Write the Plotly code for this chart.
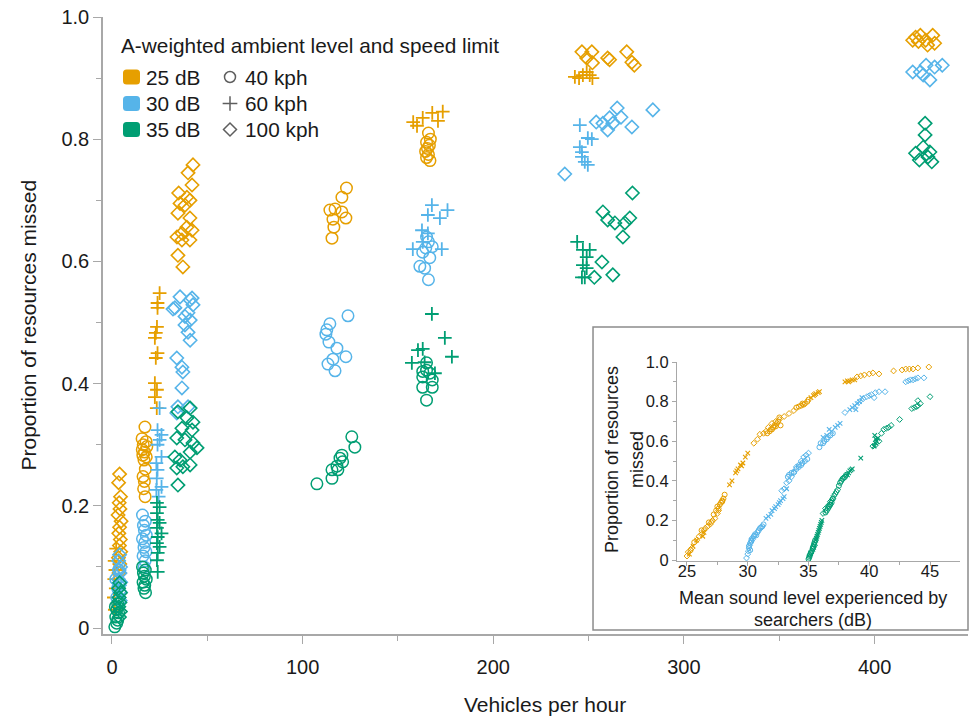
import plotly.graph_objects as go

# ---------------- data: main panel (vehicles per hour vs proportion missed) ----------------
# 25 dB
o40_x = [17.3, 15.8, 17.9, 16.4, 18.3, 15.9, 17.1, 16.2, 18.0, 16.8, 17.5, 16.3, 17.0, 16.6, 17.4,
         123, 120.6, 114.3, 117, 120.6, 122.7, 115.9, 116.4, 115.4,
         166, 167, 165, 166.5, 165.5, 164.5, 166, 165, 166.8]
o40_y = [0.329, 0.31, 0.305, 0.30, 0.297, 0.292, 0.288, 0.283, 0.28, 0.275, 0.26, 0.248, 0.24, 0.228, 0.215,
         0.72, 0.705, 0.684, 0.686, 0.681, 0.671, 0.669, 0.656, 0.638,
         0.81, 0.80, 0.795, 0.79, 0.785, 0.78, 0.775, 0.77, 0.765]
o60_x = [1.5, 1.0, 2.0, 1.2, 1.8, 1.4, 2.2,
         25, 23.9, 23.9, 23.6, 23, 22.5, 23.9, 23, 22.5, 23.6, 22.5, 23.5,
         158, 160, 168, 173.5, 171, 163,
         242.8, 247, 250.6, 252, 249, 245]
o60_y = [0.03, 0.05, 0.065, 0.08, 0.095, 0.11, 0.13,
         0.548, 0.532, 0.524, 0.493, 0.483, 0.475, 0.45, 0.442, 0.401, 0.39, 0.378, 0.36,
         0.828, 0.822, 0.843, 0.845, 0.83, 0.835,
         0.902, 0.905, 0.905, 0.90, 0.91, 0.90]
o100_x = [4, 3.5, 4.5, 3.8, 4.2, 3.2, 4.8, 4, 3.6, 4.4, 3.9, 4.6, 3.4, 4.1, 3.7,
          42.5, 39.9, 42, 35, 39.3, 40.9, 35.7, 38.3, 34.6, 40.9, 39.3, 42, 36.7, 34.1, 36.7, 40.9, 34.6, 37.2,
          246.5, 251.7, 249, 252, 260, 261, 270, 272.7, 274,
          421.5, 424, 426.8, 430.5, 431.5, 427.8, 423, 420]
o100_y = [0.252, 0.238, 0.215, 0.205, 0.195, 0.185, 0.175, 0.165, 0.155, 0.145, 0.135, 0.125, 0.115, 0.105, 0.09,
          0.758, 0.745, 0.725, 0.712, 0.705, 0.70, 0.695, 0.692, 0.679, 0.671, 0.656, 0.651, 0.646, 0.64, 0.635, 0.635, 0.61, 0.591,
          0.943, 0.943, 0.933, 0.925, 0.933, 0.930, 0.943, 0.926, 0.921,
          0.967, 0.97, 0.962, 0.97, 0.957, 0.954, 0.96, 0.962]
# 30 dB
b40_x = [2.5, 3, 2, 3.5,
         16, 17.5, 16.5, 17, 18, 16, 17.2, 16.8, 17.8, 16.3, 17.4, 16.9,
         123.8, 114.3, 112.7, 112.2, 113.8, 118, 122.7, 115.9, 113.3, 117,
         165, 168, 164.6, 166.7, 161.5, 164, 166, 166, 163]
b40_y = [0.05, 0.065, 0.08, 0.095,
         0.185, 0.175, 0.168, 0.16, 0.152, 0.146, 0.14, 0.132, 0.125, 0.118, 0.11, 0.10,
         0.511, 0.498, 0.488, 0.481, 0.468, 0.458, 0.444, 0.44, 0.432, 0.421,
         0.64, 0.624, 0.622, 0.606, 0.592, 0.589, 0.57, 0.632, 0.615]
b60_x = [25, 23.9, 26, 25, 23.9, 26, 23.3, 23.9, 26, 23.3, 24.5, 23.5,
         167.8, 176, 165.7, 172, 162.6, 165.7, 157.8, 173, 163,
         245.4, 249.6, 251.7, 245.4, 246.5, 246.5, 248, 249.6]
b60_y = [0.36, 0.324, 0.316, 0.308, 0.30, 0.28, 0.27, 0.259, 0.231, 0.226, 0.215, 0.245,
         0.692, 0.684, 0.676, 0.671, 0.651, 0.646, 0.62, 0.62, 0.632,
         0.823, 0.802, 0.80, 0.787, 0.779, 0.771, 0.763, 0.758]
b100_x = [4, 3.5, 4.5, 3.8, 4.2, 3.4, 4.6, 3.9, 4.1, 3.6, 4.3,
          35.7, 41, 42.5, 32, 39.9, 41, 38.3, 39.9, 41, 42, 33, 38.3, 34, 36.7, 37.2, 36.7, 34.6, 39.9, 34,
          254, 257.5, 261, 265, 267, 262.7, 260, 272.7, 283.7, 237.5,
          420, 424, 427, 431.5, 435.5, 429, 425.5]
b100_y = [0.12, 0.11, 0.10, 0.095, 0.09, 0.08, 0.075, 0.07, 0.06, 0.05, 0.045,
          0.542, 0.537, 0.529, 0.522, 0.516, 0.504, 0.496, 0.484, 0.471, 0.54, 0.524, 0.51, 0.442, 0.427, 0.419, 0.393, 0.362, 0.362, 0.352,
          0.828, 0.826, 0.835, 0.851, 0.836, 0.826, 0.815, 0.82, 0.848, 0.743,
          0.91, 0.91, 0.921, 0.918, 0.921, 0.897, 0.905]
# 35 dB
g40_x = [1.5, 2.5, 3, 2, 3.5, 2.5, 1.8, 3,
         16, 17.5, 16.5, 17, 18, 16.3, 17.2, 16.8, 17.6,
         125.8, 127.4, 120.6, 119.6, 121, 118, 115.4, 118.5, 115.4, 107.5,
         165, 166.7, 163, 168, 163, 168, 165, 165, 163]
g40_y = [0.002, 0.008, 0.013, 0.018, 0.025, 0.03, 0.035, 0.04,
         0.10, 0.095, 0.09, 0.085, 0.08, 0.075, 0.07, 0.065, 0.058,
         0.313, 0.296, 0.283, 0.278, 0.272, 0.265, 0.259, 0.259, 0.245, 0.236,
         0.422, 0.417, 0.411, 0.406, 0.394, 0.394, 0.373, 0.434, 0.42]
g60_x = [23.6, 25, 23.6, 24, 25, 23.6, 26, 24, 23.6, 25, 24, 23.6, 24,
         167.8, 174.6, 178.3, 160.5, 163, 157.3, 164, 169.4,
         244, 247, 250.6, 249, 247, 249, 246.5, 248]
g60_y = [0.205, 0.198, 0.188, 0.177, 0.172, 0.164, 0.155, 0.149, 0.139, 0.133, 0.123, 0.111, 0.092,
         0.514, 0.475, 0.444, 0.455, 0.457, 0.434, 0.435, 0.417,
         0.632, 0.619, 0.619, 0.607, 0.594, 0.589, 0.574, 0.574]
g100_x = [4, 3.5, 4.5, 3.8, 4.2, 3.6, 4.4, 3.9,
          34.6, 41, 39.3, 42.5, 36.7, 42, 34, 38.3, 42.5, 44.6, 41, 33, 35.7, 37.2, 34, 41, 34.6,
          273, 257.5, 260, 263.8, 271.6, 269, 268, 257, 253, 262.7,
          426.5, 426.5, 421.5, 425.5, 429, 423.5, 428, 430]
g100_y = [0.074, 0.065, 0.058, 0.05, 0.042, 0.035, 0.027, 0.018,
          0.354, 0.36, 0.344, 0.337, 0.327, 0.324, 0.311, 0.308, 0.303, 0.295, 0.288, 0.28, 0.275, 0.264, 0.262, 0.267, 0.234,
          0.712, 0.681, 0.668, 0.663, 0.671, 0.663, 0.64, 0.599, 0.574, 0.578,
          0.826, 0.807, 0.777, 0.787, 0.779, 0.766, 0.771, 0.763]

# ---------------- data: inset (mean sound level vs proportion missed) ----------------
i_o40_x = [25.3, 25.6, 26.2, 26.8, 27.2, 27.4, 27.5, 27.6, 27.7, 27.8, 27.9, 27.9, 28.0, 28.1,
           31.6, 31.8, 31.9, 32.0, 32.1, 32.2, 32.3, 32.4, 32.5, 32.6, 32.7,
           34.0, 34.2, 34.4, 34.5, 34.6, 34.7, 34.9, 35.0]
i_o40_y = [0.05, 0.09, 0.15, 0.19, 0.23, 0.25, 0.27, 0.26, 0.28, 0.29, 0.295, 0.30, 0.31, 0.33,
           0.64, 0.65, 0.66, 0.66, 0.67, 0.68, 0.675, 0.69, 0.70, 0.72, 0.68,
           0.77, 0.775, 0.78, 0.79, 0.785, 0.79, 0.80, 0.81]
i_o60_x = [25.2, 25.5, 25.8, 26.3, 26.4,
           28.5, 28.7, 29.0, 29.1, 29.2, 29.4, 29.5, 29.6, 29.8, 30.0,
           35.2, 35.4, 35.5, 35.6, 35.8, 35.9,
           38.0, 38.2, 38.3, 38.4, 38.6, 38.8]
i_o60_y = [0.03, 0.07, 0.10, 0.12, 0.14,
           0.38, 0.40, 0.44, 0.45, 0.46, 0.48, 0.475, 0.49, 0.52, 0.54,
           0.82, 0.83, 0.835, 0.84, 0.845, 0.85,
           0.90, 0.905, 0.90, 0.905, 0.91, 0.91]
i_o100_x = [25.0, 25.1, 25.4, 25.8, 26.0, 26.2, 26.4, 26.5, 26.7, 26.9, 27.0, 27.1, 27.3, 27.5, 27.6,
            30.5, 30.8, 31.0, 31.3, 31.5, 31.7, 32.0, 32.3, 32.6, 33.0, 33.4, 33.8,
            39.0, 39.3, 39.6, 40.0, 40.3, 40.8, 42.0, 42.7, 43.0, 43.3, 43.6, 44.0, 44.9]
i_o100_y = [0.02, 0.04, 0.06, 0.10, 0.12, 0.13, 0.15, 0.16, 0.17, 0.18, 0.19, 0.20, 0.21, 0.235, 0.25,
            0.59, 0.61, 0.635, 0.64, 0.65, 0.67, 0.69, 0.70, 0.71, 0.725, 0.74, 0.755,
            0.925, 0.93, 0.935, 0.94, 0.945, 0.94, 0.955, 0.96, 0.965, 0.965, 0.965, 0.97, 0.975]
i_b40_x = [30.1, 30.2, 30.3, 30.5, 30.6, 30.7, 30.8, 30.9, 31.0, 31.1, 31.2, 31.3,
           33.3, 33.4, 33.6, 33.8, 34.0, 34.2, 34.4, 34.5, 34.7, 34.9,
           35.9, 36.0, 36.2, 36.3, 36.5, 36.6, 36.8, 37.0]
i_b40_y = [0.07, 0.05, 0.10, 0.12, 0.13, 0.125, 0.14, 0.15, 0.16, 0.165, 0.17, 0.18,
           0.42, 0.43, 0.44, 0.445, 0.46, 0.47, 0.48, 0.49, 0.50, 0.51,
           0.57, 0.59, 0.59, 0.60, 0.61, 0.62, 0.63, 0.64]
i_b60_x = [31.5, 31.7, 31.9, 32.0, 32.2, 32.3, 32.5, 32.6, 32.7, 32.9, 33.0, 33.2,
           36.2, 36.5, 36.9, 37.2, 37.4, 37.6, 36.7,
           38.4, 38.6, 38.8, 39.0, 39.2, 39.4, 38.9]
i_b60_y = [0.21, 0.22, 0.23, 0.25, 0.26, 0.27, 0.28, 0.29, 0.30, 0.31, 0.32, 0.36,
           0.62, 0.63, 0.65, 0.67, 0.68, 0.69, 0.66,
           0.76, 0.77, 0.78, 0.79, 0.80, 0.82, 0.76]
i_b100_x = [29.9, 30.0, 30.05, 30.1, 30.15, 30.2, 30.3, 30.4, 30.5, 30.35, 30.25,
            32.8, 33.0, 33.2, 33.4, 33.6, 33.8, 34.0, 34.2, 34.4, 34.6, 34.8, 35.0,
            38.0, 39.2, 39.5, 39.8, 40.0, 40.2, 40.5, 40.8, 41.3, 40.4,
            43.0, 43.2, 43.4, 43.6, 43.8, 44.0, 44.5]
i_b100_y = [0.01, 0.03, 0.045, 0.06, 0.075, 0.085, 0.095, 0.105, 0.12, 0.11, 0.09,
            0.35, 0.36, 0.39, 0.40, 0.42, 0.44, 0.47, 0.48, 0.50, 0.52, 0.53, 0.54,
            0.745, 0.80, 0.815, 0.825, 0.83, 0.835, 0.845, 0.85, 0.85, 0.82,
            0.90, 0.905, 0.91, 0.91, 0.915, 0.92, 0.92]
i_g40_x = [35.0, 35.05, 35.1, 35.15, 35.2, 35.35, 35.4, 35.45, 35.5, 35.55,
           36.4, 36.5, 36.6, 36.7, 36.8, 36.9, 37.0,
           37.5, 37.6, 37.7, 37.8, 37.9, 38.0, 38.1]
i_g40_y = [0.005, 0.012, 0.02, 0.03, 0.04, 0.06, 0.07, 0.08, 0.09, 0.10,
           0.24, 0.25, 0.26, 0.27, 0.28, 0.29, 0.31,
           0.375, 0.39, 0.40, 0.41, 0.415, 0.42, 0.43]
i_g60_x = [35.6, 35.65, 35.7, 35.75, 35.8, 35.85, 35.9, 35.95, 36.0, 36.05, 36.1,
           38.2, 38.3, 38.4, 38.5, 38.6, 39.3,
           40.4, 40.45, 40.5, 40.55, 40.6, 40.7]
i_g60_y = [0.10, 0.11, 0.12, 0.13, 0.14, 0.15, 0.16, 0.17, 0.18, 0.19, 0.20,
           0.43, 0.44, 0.45, 0.455, 0.46, 0.515,
           0.575, 0.63, 0.59, 0.61, 0.60, 0.615]
i_g100_x = [35.1, 35.2, 35.3, 35.35, 35.4, 35.5,
            36.2, 36.4, 36.6, 36.7, 36.8, 36.9, 37.0, 37.1, 37.2, 37.3, 37.4,
            40.3, 40.5, 40.8, 41.0, 41.2, 41.4, 41.6, 41.8, 42.5,
            43.5, 43.7, 43.9, 44.0, 44.2, 44.0, 45.0]
i_g100_y = [0.025, 0.035, 0.045, 0.055, 0.065, 0.075,
            0.235, 0.26, 0.27, 0.28, 0.295, 0.30, 0.31, 0.325, 0.335, 0.345, 0.355,
            0.575, 0.58, 0.60, 0.64, 0.66, 0.665, 0.67, 0.68, 0.71,
            0.765, 0.77, 0.775, 0.78, 0.79, 0.805, 0.825]

# labels
level_labels = ["25 dB", "30 dB", "35 dB"]
speed_labels = ["40 kph", "60 kph", "100 kph"]
legend_title = "A-weighted ambient level and speed limit"
main_xticks = [0, 100, 200, 300, 400]
main_yticks = [0, 0.2, 0.4, 0.6, 0.8, 1.0]
main_yticktext = ["0", "0.2", "0.4", "0.6", "0.8", "1.0"]
inset_xticks = [25, 30, 35, 40, 45]

# ---------------- styling ----------------
ORANGE, BLUE, GREEN = "#E69F00", "#56B4E9", "#009E73"
FONT = "Liberation Sans, Arial, Helvetica, sans-serif"
TXT = "#1a1a1a"
AX = "#a8a8a8"
colors = [ORANGE, BLUE, GREEN]
main_sym = {"40": ("circle-open", 11.5, 1.5), "60": ("cross-thin-open", 9.8, 1.8), "100": ("diamond-open", 10.2, 1.6)}
inset_sym = {"40": ("circle-open", 5, 1.0), "60": ("x-thin-open", 4.5, 1.1), "100": ("diamond-open", 4.5, 1.0)}

main_groups = [
    (ORANGE, "40", o40_x, o40_y), (ORANGE, "60", o60_x, o60_y), (ORANGE, "100", o100_x, o100_y),
    (BLUE, "40", b40_x, b40_y), (BLUE, "60", b60_x, b60_y), (BLUE, "100", b100_x, b100_y),
    (GREEN, "40", g40_x, g40_y), (GREEN, "60", g60_x, g60_y), (GREEN, "100", g100_x, g100_y),
]
inset_groups = [
    (ORANGE, "40", i_o40_x, i_o40_y), (ORANGE, "60", i_o60_x, i_o60_y), (ORANGE, "100", i_o100_x, i_o100_y),
    (BLUE, "40", i_b40_x, i_b40_y), (BLUE, "60", i_b60_x, i_b60_y), (BLUE, "100", i_b100_x, i_b100_y),
    (GREEN, "40", i_g40_x, i_g40_y), (GREEN, "60", i_g60_x, i_g60_y), (GREEN, "100", i_g100_x, i_g100_y),
]

fig = go.Figure()
for col, sp, xs, ys in main_groups:
    sym, size, lw = main_sym[sp]
    fig.add_trace(go.Scatter(x=xs, y=ys, mode="markers", showlegend=False,
                             marker=dict(symbol=sym, size=size, color=col, line=dict(width=lw, color=col)),
                             xaxis="x", yaxis="y"))
for col, sp, xs, ys in inset_groups:
    sym, size, lw = inset_sym[sp]
    fig.add_trace(go.Scatter(x=xs, y=ys, mode="markers", showlegend=False,
                             marker=dict(symbol=sym, size=size, color=col, line=dict(width=lw, color=col)),
                             xaxis="x2", yaxis="y2"))

# legend drawn in a pixel-space overlay (x3: px from plot left, y3: px from plot top)
row_y = [60, 86.5, 112.5]
fig.add_trace(go.Scatter(x=[127, 127, 127], y=row_y, mode="markers", showlegend=False, hoverinfo="skip",
                         marker=dict(symbol=["circle-open", "cross-thin-open", "diamond-open"],
                                     size=[11, 10.5, 10], color=TXT, line=dict(width=1.5, color=TXT)),
                         xaxis="x3", yaxis="y3"))

LEG_FS = 20.8
shapes = []
annotations = []
for i, (lab, sp) in enumerate(zip(level_labels, speed_labels)):
    yc = row_y[i]
    x0, x1, y0, y1, r = 20, 37, yc - 7.5, yc + 7.5, 3.5
    path = (f"M{x0+r},{y0} L{x1-r},{y0} Q{x1},{y0} {x1},{y0+r} L{x1},{y1-r} Q{x1},{y1} {x1-r},{y1} "
            f"L{x0+r},{y1} Q{x0},{y1} {x0},{y1-r} L{x0},{y0+r} Q{x0},{y0} {x0+r},{y0} Z")
    shapes.append(dict(type="path", path=path, xref="x3", yref="y3", fillcolor=colors[i], line=dict(width=0)))
    annotations.append(dict(text=lab, x=41, y=yc, xref="x3", yref="y3", xanchor="left", yanchor="middle",
                            showarrow=False, font=dict(size=LEG_FS, color=TXT, family=FONT)))
    annotations.append(dict(text=sp, x=140, y=yc, xref="x3", yref="y3", xanchor="left", yanchor="middle",
                            showarrow=False, font=dict(size=LEG_FS, color=TXT, family=FONT)))
annotations.append(dict(text=legend_title, x=16, y=28, xref="x3", yref="y3", xanchor="left", yanchor="middle",
                        showarrow=False, font=dict(size=LEG_FS, color=TXT, family=FONT)))

# inset frame (paper coordinates)
shapes.append(dict(type="rect", xref="paper", yref="paper", x0=0.5665, x1=1.0, y0=0.0065, y1=0.4976,
                   line=dict(color="#8c8c8c", width=1.5), fillcolor="white", layer="below"))

# axis titles
annotations += [
    dict(text="Proportion of resources missed", x=-0.0867, y=0.5, xref="paper", yref="paper",
         textangle=-90, showarrow=False, xanchor="center", yanchor="middle",
         font=dict(size=21, color=TXT, family=FONT)),
    dict(text="Vehicles per hour", x=0.511, y=-0.115, xref="paper", yref="paper",
         showarrow=False, xanchor="center", yanchor="middle", font=dict(size=21, color=TXT, family=FONT)),
    dict(text="Proportion of resources", x=509, y=443, xref="x3", yref="y3", textangle=-90,
         showarrow=False, xanchor="center", yanchor="middle", font=dict(size=18, color=TXT, family=FONT)),
    dict(text="missed", x=534, y=443, xref="x3", yref="y3", textangle=-90,
         showarrow=False, xanchor="center", yanchor="middle", font=dict(size=18, color=TXT, family=FONT)),
    dict(text="Mean sound level experienced by", x=710, y=581, xref="x3", yref="y3",
         showarrow=False, xanchor="center", yanchor="middle", font=dict(size=18, color=TXT, family=FONT)),
    dict(text="searchers (dB)", x=710, y=603, xref="x3", yref="y3",
         showarrow=False, xanchor="center", yanchor="middle", font=dict(size=18, color=TXT, family=FONT)),
]

axis_common = dict(showgrid=False, zeroline=False, showline=True, linecolor=AX, linewidth=1.5,
                   ticks="outside", tickcolor=AX, tickwidth=1.2,
                   tickfont=dict(size=20, color=TXT, family=FONT))
inset_font = dict(size=16.5, color=TXT, family=FONT)

fig.update_layout(
    width=972, height=718,
    margin=dict(l=103, r=4, t=17, b=84),
    paper_bgcolor="white", plot_bgcolor="rgba(0,0,0,0)",
    font=dict(family=FONT, color=TXT),
    showlegend=False,
    xaxis=dict(range=[-4.7, 449], tickvals=main_xticks, ticklen=8, domain=[0, 1], ticklabelstandoff=6,
               minor=dict(dtick=50, tick0=0, ticks="outside", ticklen=5, tickcolor=AX, tickwidth=1.2),
               **axis_common),
    yaxis=dict(range=[-0.0097, 1.0], tickvals=main_yticks, ticktext=main_yticktext, ticklen=8, domain=[0, 1],
               minor=dict(dtick=0.1, tick0=0, ticks="outside", ticklen=5, tickcolor=AX, tickwidth=1.2),
               **axis_common),
    xaxis2=dict(range=[24.18, 47.47], tickvals=inset_xticks, ticklen=4, domain=[0.6636, 0.9908], anchor="y2",
                ticklabelstandoff=-9,
                minor=dict(dtick=2.5, tick0=25, ticks="outside", ticklen=3, tickcolor=AX, tickwidth=1),
                **{**axis_common, "linewidth": 1.2, "tickfont": inset_font}),
    yaxis2=dict(range=[-0.005, 1.0], tickvals=main_yticks, ticktext=main_yticktext, ticklen=4,
                domain=[0.1183, 0.4408], anchor="x2",
                minor=dict(dtick=0.1, tick0=0, ticks="outside", ticklen=3, tickcolor=AX, tickwidth=1),
                **{**axis_common, "linewidth": 1.2, "tickfont": inset_font}),
    xaxis3=dict(range=[0, 865], visible=False, overlaying="x", anchor="y3", fixedrange=True),
    yaxis3=dict(range=[617, 0], visible=False, overlaying="y", anchor="x3", fixedrange=True),
    shapes=shapes,
    annotations=annotations,
)

fig.write_html("out.html", config={"displayModeBar": False},
               post_script="document.documentElement.style.margin='0';document.body.style.margin='0';"
                           "document.body.style.padding='0';document.body.style.overflow='hidden';")
